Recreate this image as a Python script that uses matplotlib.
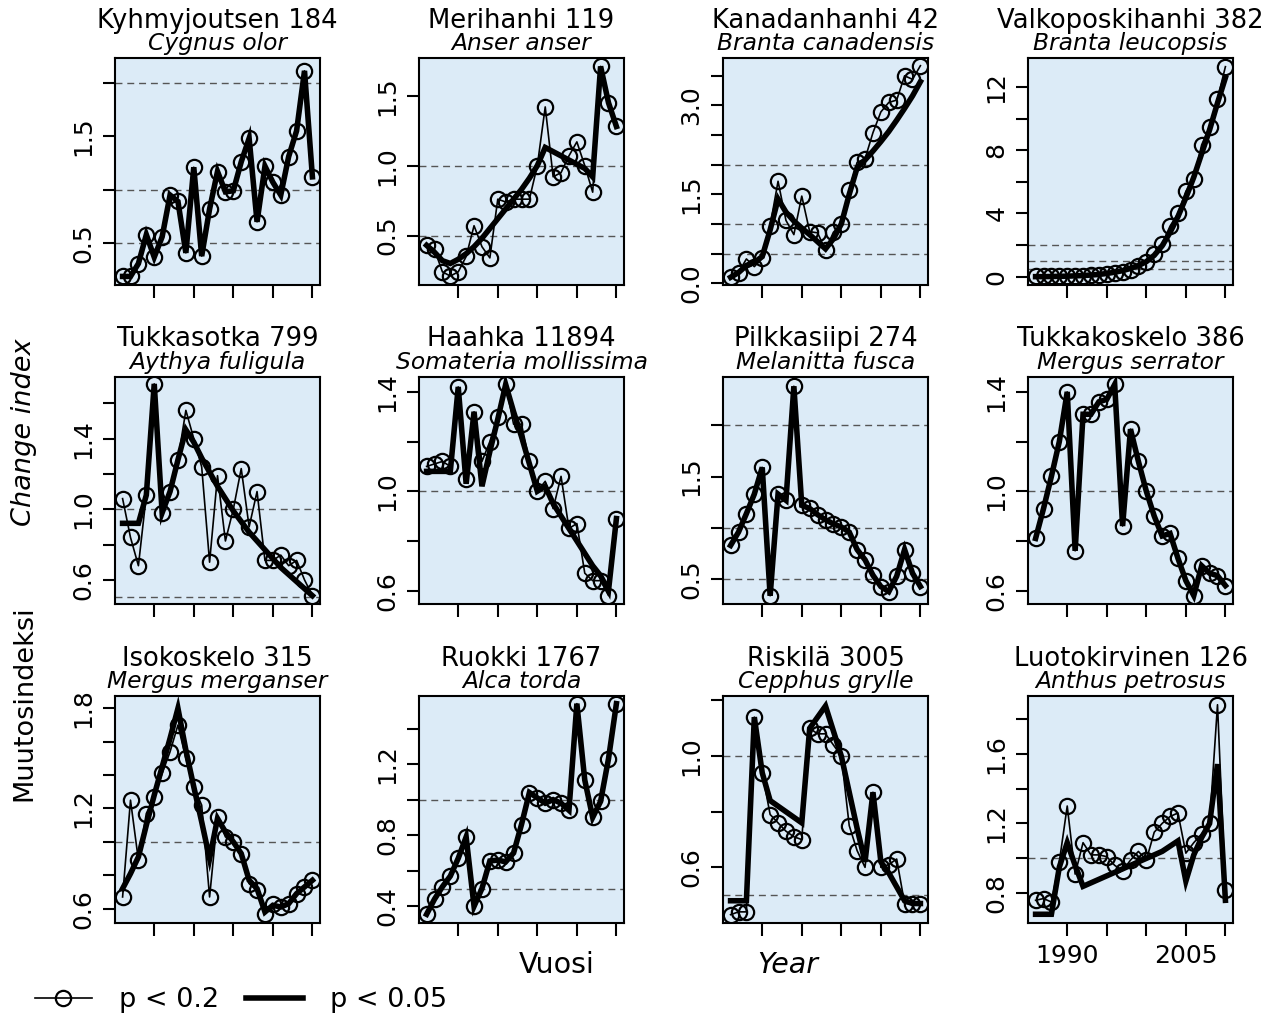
import matplotlib
matplotlib.use("Agg")
import matplotlib.pyplot as plt
from matplotlib.lines import Line2D

# years of the survey
years = list(range(1986, 2011))

names = ["Kyhmyjoutsen 184", "Merihanhi 119", "Kanadanhanhi 42", "Valkoposkihanhi 382",
         "Tukkasotka 799", "Haahka 11894", "Pilkkasiipi 274", "Tukkakoskelo 386",
         "Isokoskelo 315", "Ruokki 1767", "Riskilä 3005", "Luotokirvinen 126"]
latin = ["Cygnus olor", "Anser anser", "Branta canadensis", "Branta leucopsis",
         "Aythya fuligula", "Somateria mollissima", "Melanitta fusca", "Mergus serrator",
         "Mergus merganser", "Alca torda", "Cepphus grylle", "Anthus petrosus"]

# p < 0.2 index values (thin line + circles)
kyhmyjoutsen = [0.19, 0.19, 0.31, 0.58, 0.37, 0.56, 0.95, 0.89, 0.41, 1.21, 0.38, 0.82, 1.17,
                0.98, 0.99, 1.26, 1.48, 0.70, 1.22, 1.07, 0.95, 1.31, 1.55, 2.11, 1.12]
merihanhi = [0.43, 0.40, 0.24, 0.21, 0.24, 0.35, 0.57, 0.42, 0.34, 0.76, 0.74, 0.76, 0.76,
             0.76, 1.00, 1.42, 0.92, 0.95, 1.07, 1.17, 1.00, 0.81, 1.71, 1.45, 1.28]
kanadanhanhi = [0.11, 0.18, 0.41, 0.28, 0.42, 0.97, 1.72, 1.06, 0.82, 1.47, 0.87, 0.85, 0.56,
                0.86, 1.00, 1.58, 2.04, 2.10, 2.54, 2.89, 3.05, 3.09, 3.50, 3.44, 3.67]
valkoposkihanhi = [0.02, 0.02, 0.03, 0.03, 0.04, 0.05, 0.07, 0.09, 0.12, 0.16, 0.22, 0.32, 0.45,
                   0.65, 0.95, 1.44, 2.07, 3.20, 4.00, 5.40, 6.20, 8.35, 9.50, 11.25, 13.30]
tukkasotka = [1.06, 0.84, 0.68, 1.08, 1.71, 0.98, 1.10, 1.28, 1.56, 1.40, 1.24, 0.70, 1.19,
              0.82, 1.00, 1.23, 0.90, 1.10, 0.71, 0.71, 0.74, 0.68, 0.71, 0.60, 0.51]
haahka = [1.10, 1.11, 1.12, 1.10, 1.42, 1.05, 1.32, 1.12, 1.20, 1.30, 1.43, 1.27, 1.27,
          1.12, 1.00, 1.04, 0.93, 1.06, 0.85, 0.87, 0.67, 0.64, 0.64, 0.58, 0.89]
pilkkasiipi = [0.83, 0.96, 1.14, 1.33, 1.59, 0.34, 1.33, 1.27, 2.38, 1.22, 1.19, 1.13, 1.08,
               1.04, 1.01, 0.96, 0.79, 0.69, 0.54, 0.43, 0.38, 0.53, 0.79, 0.56, 0.43]
tukkakoskelo = [0.81, 0.93, 1.06, 1.20, 1.40, 0.76, 1.31, 1.31, 1.36, 1.37, 1.43, 0.86, 1.25,
                1.12, 1.00, 0.90, 0.82, 0.83, 0.73, 0.64, 0.58, 0.70, 0.67, 0.66, 0.62]
isokoskelo = [0.67, 1.25, 0.89, 1.17, 1.27, 1.41, 1.54, 1.70, 1.50, 1.33, 1.22, 0.67, 1.15,
              1.03, 1.00, 0.93, 0.75, 0.71, 0.57, 0.63, 0.61, 0.63, 0.69, 0.73, 0.77]
ruokki = [0.355, 0.44, 0.51, 0.57, 0.67, 0.79, 0.40, 0.50, 0.655, 0.66, 0.65, 0.70, 0.86,
          1.04, 1.01, 0.98, 1.00, 0.98, 0.94, 1.54, 1.11, 0.90, 0.99, 1.23, 1.54]
riskila = [0.43, 0.44, 0.44, 1.14, 0.94, 0.79, 0.76, 0.73, 0.71, 0.70, 1.10, 1.08, 1.08,
           1.04, 1.00, 0.75, 0.66, 0.60, 0.87, 0.60, 0.61, 0.63, 0.47, 0.47, 0.47]
luotokirvinen = [0.76, 0.77, 0.75, 0.98, 1.30, 0.91, 1.09, 1.02, 1.02, 1.01, 0.96, 0.93, 0.99,
                 1.04, 0.99, 1.15, 1.20, 1.24, 1.26, 1.03, 1.09, 1.14, 1.20, 1.88, 0.82]

# p < 0.05 trend (thick line)
merihanhi_t = [0.43, 0.38, 0.32, 0.30, 0.33, 0.37, 0.42, 0.48, 0.55, 0.62, 0.69, 0.76, 0.83,
               0.91, 1.00, 1.13, 1.10, 1.07, 1.04, 1.01, 0.98, 0.92, 1.71, 1.45, 1.28]
kanadanhanhi_t = [0.10, 0.18, 0.30, 0.35, 0.45, 0.90, 1.42, 1.20, 1.05, 0.93, 0.82, 0.70, 0.58,
                  0.75, 1.00, 1.50, 1.95, 2.08, 2.23, 2.39, 2.56, 2.75, 2.95, 3.16, 3.40]
valkoposkihanhi_t = [0.0, 0.0, 0.01, 0.02, 0.03, 0.05, 0.07, 0.10, 0.14, 0.20, 0.28, 0.38, 0.52,
                     0.70, 0.95, 1.35, 1.95, 2.80, 3.80, 5.00, 6.30, 7.80, 9.30, 11.00, 12.60]
tukkasotka_t = [0.92, 0.92, 0.92, 1.08, 1.71, 0.98, 1.10, 1.28, 1.45, 1.38, 1.29, 1.21, 1.13,
                1.06, 0.99, 0.93, 0.87, 0.82, 0.77, 0.72, 0.67, 0.63, 0.59, 0.55, 0.51]
haahka_t = [1.08, 1.08, 1.08, 1.08, 1.42, 1.03, 1.32, 1.02, 1.16, 1.29, 1.43, 1.32, 1.22,
            1.11, 1.00, 1.02, 0.95, 0.90, 0.85, 0.80, 0.75, 0.70, 0.66, 0.60, 0.89]
isokoskelo_t = [0.72, 0.81, 0.91, 1.10, 1.28, 1.45, 1.62, 1.80, 1.55, 1.33, 1.12, 0.90, 1.14,
                1.06, 1.00, 0.93, 0.77, 0.72, 0.58, 0.62, 0.61, 0.63, 0.69, 0.73, 0.77]
riskila_t = [0.48, 0.48, 0.48, 1.14, 0.94, 0.84, 0.82, 0.80, 0.78, 0.76, 1.10, 1.14, 1.18,
             1.09, 1.00, 0.87, 0.74, 0.62, 0.87, 0.62, 0.58, 0.53, 0.48, 0.47, 0.47]
luotokirvinen_t = [0.68, 0.68, 0.68, 0.95, 1.09, 0.96, 0.84, 0.86, 0.88, 0.90, 0.92, 0.94, 0.96,
                   0.98, 1.00, 1.02, 1.04, 1.07, 1.10, 0.87, 1.02, 1.12, 1.20, 1.54, 0.76]

series = [kyhmyjoutsen, merihanhi, kanadanhanhi, valkoposkihanhi, tukkasotka, haahka,
          pilkkasiipi, tukkakoskelo, isokoskelo, ruokki, riskila, luotokirvinen]
trends = [kyhmyjoutsen, merihanhi_t, kanadanhanhi_t, valkoposkihanhi_t, tukkasotka_t, haahka_t,
          pilkkasiipi, tukkakoskelo, isokoskelo_t, ruokki, riskila_t, luotokirvinen_t]

ylims = [(0.11, 2.23), (0.146, 1.77), (-0.03, 3.80), (-0.53, 13.85),
         (0.463, 1.749), (0.546, 1.46), (0.26, 2.47), (0.546, 1.46),
         (0.514, 1.874), (0.306, 1.583), (0.40, 1.216), (0.63, 1.93)]
yticks = [[0.5, 1.0, 1.5, 2.0], [0.5, 1.0, 1.5], [0, 0.5, 1, 1.5, 2, 2.5, 3, 3.5],
          [0, 2, 4, 6, 8, 10, 12],
          [0.6, 0.8, 1.0, 1.2, 1.4, 1.6], [0.6, 0.8, 1.0, 1.2, 1.4], [0.5, 1.0, 1.5, 2.0],
          [0.6, 0.8, 1.0, 1.2, 1.4],
          [0.6, 0.8, 1.0, 1.2, 1.4, 1.6, 1.8], [0.4, 0.6, 0.8, 1.0, 1.2, 1.4],
          [0.6, 0.8, 1.0, 1.2], [0.8, 1.0, 1.2, 1.4, 1.6, 1.8]]
ylabels = [["0.5", "", "1.5", ""], ["0.5", "1.0", "1.5"], ["0.0", "", "", "1.5", "", "", "3.0", ""],
           ["0", "", "4", "", "8", "", "12"],
           ["0.6", "", "1.0", "", "1.4", ""], ["0.6", "", "1.0", "", "1.4"], ["0.5", "", "1.5", ""],
           ["0.6", "", "1.0", "", "1.4"],
           ["0.6", "", "", "1.2", "", "", "1.8"], ["0.4", "", "0.8", "", "1.2", ""],
           ["0.6", "", "1.0", ""], ["0.8", "", "1.2", "", "1.6", ""]]
refs = [0.5, 1.0, 2.0]
xticks = [1990, 1995, 2000, 2005, 2010]
xlabels = ["1990", "", "", "2005", ""]

W, H = 1274, 1014
fig = plt.figure(figsize=(W / 100, H / 100), dpi=100)

lefts = [115, 419, 723, 1028]
tops = [58, 377, 696]
aw, ah = 205, 227
bg = "#dcebf7"

for i in range(12):
    r, c = divmod(i, 4)
    ax = fig.add_axes([lefts[c] / W, 1 - (tops[r] + ah) / H, aw / W, ah / H])
    ax.set_facecolor(bg)
    for v in refs:
        ax.axhline(v, color="#555555", lw=1, ls=(0, (5, 3.5)), zorder=1)
    ax.plot(years, series[i], color="black", lw=1.2, marker="o", ms=11,
            mfc="none", mec="black", mew=1.6, zorder=3)
    ax.plot(years, trends[i], color="black", lw=4, solid_joinstyle="miter", zorder=4)
    ax.set_xlim(1985.04, 2010.96)
    ax.set_ylim(*ylims[i])
    ax.set_yticks(yticks[i])
    ax.set_yticklabels(ylabels[i], rotation=90, va="center")
    ax.set_xticks(xticks)
    if i == 11:
        ax.set_xticklabels(xlabels)
    else:
        ax.set_xticklabels([])
    ax.tick_params(direction="out", length=9, width=1.5, labelsize=18)
    ax.tick_params(axis="x", pad=6)
    ax.tick_params(axis="y", pad=5)
    for s in ax.spines.values():
        s.set_linewidth(1.5)
    ax.annotate(names[i], xy=(0.5, 1), xycoords="axes fraction", xytext=(0, 27),
                textcoords="offset points", ha="center", va="center", fontsize=18.6)
    ax.annotate(latin[i], xy=(0.5, 1), xycoords="axes fraction", xytext=(0, 10.5),
                textcoords="offset points", ha="center", va="center", fontsize=16.8,
                style="italic")

fig.text(24 / W, 1 - 432 / H, "Change index", rotation=90, ha="center", va="center",
         fontsize=19.5, style="italic")
fig.text(24 / W, 1 - 703 / H, "Muutosindeksi", rotation=90, ha="center", va="center",
         fontsize=19.5)
fig.text(557 / W, 1 - 965 / H, "Vuosi", ha="center", va="center", fontsize=20.5)
fig.text(788 / W, 1 - 965 / H, "Year", ha="center", va="center", fontsize=20.5, style="italic")

handles = [Line2D([], [], color="black", lw=1.2, marker="o", ms=11, mfc="none", mew=1.6),
           Line2D([], [], color="black", lw=4)]
fig.legend(handles, ["p < 0.2", "p < 0.05"], loc="center left",
           bbox_to_anchor=(35 / W, 1 - 1000 / H), ncol=2, frameon=False, fontsize=19.5,
           borderpad=0, borderaxespad=0, handlelength=2.1, handletextpad=1.0,
           columnspacing=1.0)

fig.savefig("out.png", dpi=100, facecolor="white")
